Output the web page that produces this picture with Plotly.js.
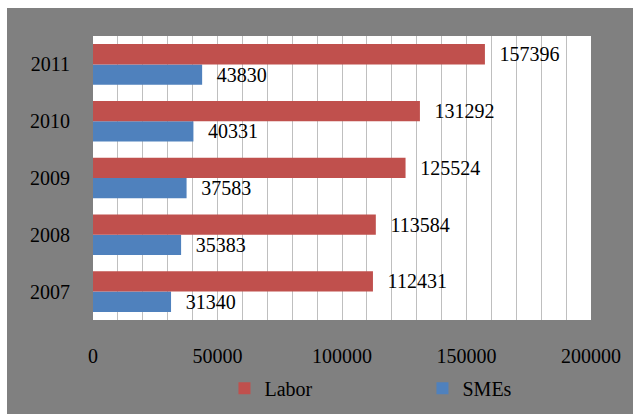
<!DOCTYPE html>
<html>
<head>
<meta charset="utf-8">
<script src="https://cdn.plot.ly/plotly-3.0.1.min.js"></script>
<style>
html,body{margin:0;padding:0;background:#ffffff;}
#chart{position:absolute;left:7px;top:8px;width:626px;height:406px;}
</style>
</head>
<body>
<div id="chart"></div>
<script>
var years = ['2007', '2008', '2009', '2010', '2011'];
var labor = [112431, 113584, 125524, 131292, 157396];
var smes = [31340, 35383, 37583, 40331, 43830];
var xTicks = [0, 50000, 100000, 150000, 200000];

var fontFam = '"Liberation Serif", "Times New Roman", serif';

var traces = [
  {
    type: 'bar', orientation: 'h', name: 'SMEs',
    y: years, x: smes,
    marker: {color: '#4F81BD'},
    text: smes.map(String),
    texttemplate: '\u2002\u200a%{text}',
    textposition: 'outside',
    constraintext: 'none',
    cliponaxis: false,
    textfont: {family: fontFam, size: 20, color: '#000000'},
    hoverinfo: 'none'
  },
  {
    type: 'bar', orientation: 'h', name: 'Labor',
    y: years, x: labor,
    marker: {color: '#C0504D'},
    text: labor.map(String),
    texttemplate: '\u2002\u200a%{text}',
    textposition: 'outside',
    constraintext: 'none',
    cliponaxis: false,
    textfont: {family: fontFam, size: 20, color: '#000000'},
    hoverinfo: 'none'
  }
];

var layout = {
  width: 626, height: 406,
  margin: {l: 86, r: 42, t: 28, b: 94, autoexpand: false},
  paper_bgcolor: '#808080',
  plot_bgcolor: '#ffffff',
  barmode: 'group',
  bargap: 0.285,
  bargroupgap: 0,
  font: {family: fontFam, size: 20, color: '#000000'},
  showlegend: true,
  legend: {
    orientation: 'h', traceorder: 'reversed',
    x: 0.264, xanchor: 'left', y: -0.172, yanchor: 'top',
    bgcolor: 'rgba(0,0,0,0)',
    font: {family: fontFam, size: 20, color: '#000000'},
    entrywidth: 153, entrywidthmode: 'pixels'
  },
  xaxis: {
    range: [0, 200000],
    tickvals: xTicks,
    ticktext: xTicks.map(String),
    showgrid: true, gridcolor: '#bfbfbf', gridwidth: 1,
    minor: {dtick: 10000, showgrid: true, gridcolor: '#bfbfbf', gridwidth: 1},
    zeroline: false, showline: false,
    ticks: '', ticklabelstandoff: 22,
    tickfont: {family: fontFam, size: 20, color: '#000000'},
    fixedrange: true
  },
  yaxis: {
    type: 'category',
    showgrid: false, zeroline: false, showline: false,
    ticks: '', ticklabelstandoff: 22,
    tickfont: {family: fontFam, size: 20, color: '#000000'},
    fixedrange: true
  }
};

Plotly.newPlot('chart', traces, layout, {displayModeBar: false, staticPlot: true});
</script>
</body>
</html>
